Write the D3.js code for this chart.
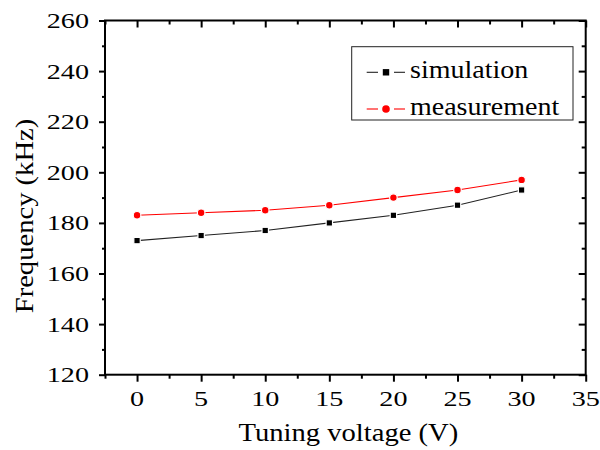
<!DOCTYPE html>
<html>
<head>
<meta charset="utf-8">
<script src="https://cdn.jsdelivr.net/npm/d3@7"></script>
<style>
  html, body { margin: 0; padding: 0; background: #fff; }
  svg { display: block; }
  text { font-family: "Liberation Serif", "Times New Roman", serif; fill: #000; }
</style>
</head>
<body>
<svg id="chart" width="600" height="450"></svg>
<script>
// Tuning voltage (V)
const voltages = [0, 5, 10, 15, 20, 25, 30];
// Resonant frequency (kHz)
const simulation = [173, 175, 177, 180, 183, 187, 193];
const measurement = [183, 184, 185, 187, 190, 193, 197];

const xMajorTicks = [0, 5, 10, 15, 20, 25, 30, 35];
const xMinorTicks = [-2.5, 2.5, 7.5, 12.5, 17.5, 22.5, 27.5, 32.5];
const yMajorTicks = [120, 140, 160, 180, 200, 220, 240, 260];
const yMinorTicks = [130, 150, 170, 190, 210, 230, 250];

const seriesNames = ["simulation", "measurement"];
const xTitle = "Tuning voltage (V)";
const yTitle = "Frequency (kHz)";

const plot = { left: 105, right: 585.7, top: 20.5, bottom: 374.7 };

const svg = d3.select("#chart");

const x = d3.scaleLinear().domain([-2.5, 35]).range([plot.left, plot.right]);
const y = d3.scaleLinear().domain([120, 260]).range([plot.bottom, plot.top]);

function styleAxis(g) {
  g.select(".domain").remove();
  g.selectAll(".tick line").attr("stroke", "#000").attr("stroke-width", 2);
  g.selectAll(".tick text").remove();
}

// major and minor ticks on all four sides
svg.append("g").attr("transform", `translate(0,${plot.bottom})`)
  .call(d3.axisBottom(x).tickValues(xMajorTicks).tickSize(7)).call(styleAxis);
svg.append("g").attr("transform", `translate(0,${plot.bottom})`)
  .call(d3.axisBottom(x).tickValues(xMinorTicks).tickSize(4)).call(styleAxis);
svg.append("g").attr("transform", `translate(0,${plot.top})`)
  .call(d3.axisTop(x).tickValues(xMajorTicks).tickSize(-7)).call(styleAxis);
svg.append("g").attr("transform", `translate(0,${plot.top})`)
  .call(d3.axisTop(x).tickValues(xMinorTicks).tickSize(-4)).call(styleAxis);
svg.append("g").attr("transform", `translate(${plot.left},0)`)
  .call(d3.axisLeft(y).tickValues(yMajorTicks).tickSize(6)).call(styleAxis);
svg.append("g").attr("transform", `translate(${plot.left},0)`)
  .call(d3.axisLeft(y).tickValues(yMinorTicks).tickSize(3)).call(styleAxis);
svg.append("g").attr("transform", `translate(${plot.right},0)`)
  .call(d3.axisRight(y).tickValues(yMajorTicks).tickSize(-7)).call(styleAxis);
svg.append("g").attr("transform", `translate(${plot.right},0)`)
  .call(d3.axisRight(y).tickValues(yMinorTicks).tickSize(-4)).call(styleAxis);

// frame
svg.append("rect")
  .attr("x", plot.left).attr("y", plot.top)
  .attr("width", plot.right - plot.left).attr("height", plot.bottom - plot.top)
  .attr("fill", "none").attr("stroke", "#000").attr("stroke-width", 2);

// tick labels (wide-set serif digits)
const tickStretch = 1.28;
svg.append("g").selectAll("text").data(xMajorTicks).join("text")
  .attr("transform", d => `translate(${x(d)},406) scale(${tickStretch},1)`)
  .attr("text-anchor", "middle").attr("font-size", 22)
  .text(d => d);
svg.append("g").selectAll("text").data(yMajorTicks).join("text")
  .attr("transform", d => `translate(89,${y(d) + 7.5}) scale(${tickStretch},1)`)
  .attr("text-anchor", "end").attr("font-size", 22)
  .text(d => d);

// axis titles
const titleStretch = 1.1;
svg.append("text")
  .attr("transform", `translate(${(plot.left + plot.right) / 2 + 3},441) scale(${titleStretch},1)`)
  .attr("text-anchor", "middle").attr("font-size", 26)
  .text(xTitle);
svg.append("text")
  .attr("transform", `translate(33,216) rotate(-90) scale(${titleStretch},1)`)
  .attr("text-anchor", "middle").attr("font-size", 26)
  .text(yTitle);

// series
const line = d3.line().x(d => x(d[0])).y(d => y(d[1]));
const simPts = voltages.map((v, i) => [v, simulation[i]]);
const meaPts = voltages.map((v, i) => [v, measurement[i]]);

svg.append("path").datum(simPts).attr("d", line)
  .attr("fill", "none").attr("stroke", "#222").attr("stroke-width", 1.1);
svg.append("path").datum(meaPts).attr("d", line)
  .attr("fill", "none").attr("stroke", "#ff0000").attr("stroke-width", 1.1);

svg.append("g").selectAll("rect").data(simPts).join("rect")
  .attr("x", d => x(d[0]) - 3.2).attr("y", d => y(d[1]) - 3.2)
  .attr("width", 6.4).attr("height", 6.4)
  .attr("fill", "#000").attr("stroke", "#fff").attr("stroke-width", 1.2);
svg.append("g").selectAll("circle").data(meaPts).join("circle")
  .attr("cx", d => x(d[0])).attr("cy", d => y(d[1])).attr("r", 3.8)
  .attr("fill", "#ff0000").attr("stroke", "#fff").attr("stroke-width", 1.2);

// legend
const legend = svg.append("g");
legend.append("rect")
  .attr("x", 351.7).attr("y", 46.7).attr("width", 221.3).attr("height", 73.3)
  .attr("fill", "#fff").attr("stroke", "#222").attr("stroke-width", 1);

const legendRows = [
  { name: seriesNames[0], color: "#222", y: 72.3, shape: "square" },
  { name: seriesNames[1], color: "#ff0000", y: 109, shape: "circle" }
];
legendRows.forEach(r => {
  legend.append("line").attr("x1", 366.7).attr("x2", 378).attr("y1", r.y).attr("y2", r.y)
    .attr("stroke", r.color).attr("stroke-width", 1.1);
  legend.append("line").attr("x1", 394).attr("x2", 405).attr("y1", r.y).attr("y2", r.y)
    .attr("stroke", r.color).attr("stroke-width", 1.1);
  if (r.shape === "square") {
    legend.append("rect").attr("x", 386 - 3.2).attr("y", r.y - 3.2)
      .attr("width", 6.4).attr("height", 6.4).attr("fill", "#000");
  } else {
    legend.append("circle").attr("cx", 386).attr("cy", r.y).attr("r", 3.8).attr("fill", "#ff0000");
  }
  legend.append("text")
    .attr("transform", `translate(410,${r.y + 6}) scale(1.12,1)`)
    .attr("font-size", 25)
    .text(r.name);
});
</script>
</body>
</html>
